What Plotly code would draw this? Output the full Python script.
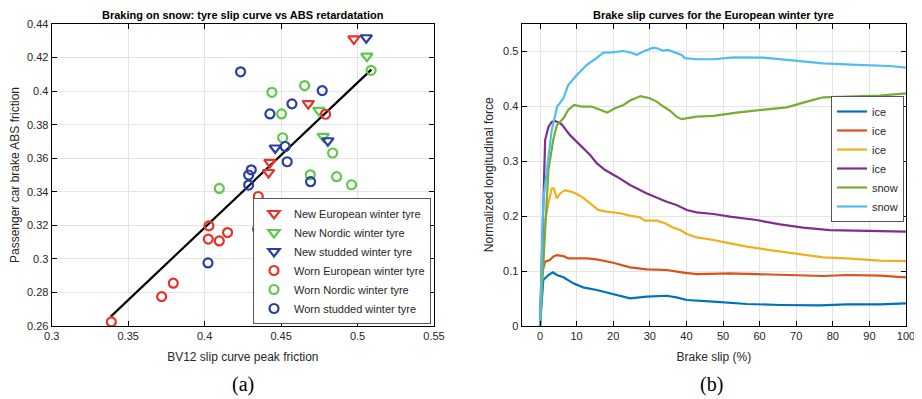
import plotly.graph_objects as go

# ---------------- Left panel data ----------------
new_eu_x = [0.4976, 0.4678, 0.4427, 0.4418]
new_eu_y = [0.4311, 0.3925, 0.3575, 0.3515]
new_nord_x = [0.5061, 0.4747, 0.4776]
new_nord_y = [0.4208, 0.3885, 0.3730]
new_stud_x = [0.5057, 0.4806, 0.4462]
new_stud_y = [0.4318, 0.3704, 0.3661]
worn_eu_x = [0.4791, 0.4351, 0.4028, 0.4346, 0.4150, 0.4024, 0.4096, 0.3795, 0.3719, 0.3390]
worn_eu_y = [0.3862, 0.3372, 0.3197, 0.3177, 0.3157, 0.3118, 0.3107, 0.2855, 0.2775, 0.2624]
worn_nord_x = [0.5089, 0.4440, 0.4654, 0.4503, 0.4510, 0.4837, 0.4691, 0.4863, 0.4961, 0.4096]
worn_nord_y = [0.4124, 0.3993, 0.4033, 0.3864, 0.3722, 0.3631, 0.3501, 0.3490, 0.3442, 0.3420]
worn_stud_x = [0.4235, 0.4769, 0.4571, 0.4427, 0.4527, 0.4540, 0.4305, 0.4288, 0.4288, 0.4693, 0.4022]
worn_stud_y = [0.4115, 0.4003, 0.3924, 0.3864, 0.3670, 0.3579, 0.3531, 0.3500, 0.3440, 0.3460, 0.2976]
fit_x = [0.3386, 0.5090]
fit_y = [0.2656, 0.4128]

left_xticks = [0.3, 0.35, 0.4, 0.45, 0.5, 0.55]
left_xtext = ["0.3", "0.35", "0.4", "0.45", "0.5", "0.55"]
left_yticks = [0.26, 0.28, 0.30, 0.32, 0.34, 0.36, 0.38, 0.40, 0.42, 0.44]
left_ytext = ["0.26", "0.28", "0.3", "0.32", "0.34", "0.36", "0.38", "0.4", "0.42", "0.44"]

# ---------------- Right panel data ----------------
ice1_x = [0, 0.9, 2.3, 3.5, 4.6, 6.4, 9.1, 11.8, 15.5, 20, 24.6, 29.2, 34.6, 37.3, 40.1, 47.4, 56.5, 65.6, 76.5, 83.8, 92.9, 100]
ice1_y = [0.0, 0.0836, 0.0927, 0.0976, 0.0927, 0.0885, 0.0776, 0.0703, 0.0655, 0.058, 0.0503, 0.0533, 0.055, 0.052, 0.0473, 0.0442, 0.040, 0.0382, 0.0376, 0.0394, 0.0394, 0.041]
ice2_x = [0, 0.5, 1.4, 2.7, 3.6, 4.6, 6.4, 7.7, 12.8, 15.5, 20, 24.6, 29.2, 34.6, 39.2, 42.8, 51.9, 61, 70.1, 77.4, 83.8, 92.9, 100]
ice2_y = [0.0, 0.0958, 0.117, 0.120, 0.126, 0.129, 0.127, 0.123, 0.123, 0.1212, 0.115, 0.1067, 0.103, 0.1018, 0.097, 0.0945, 0.0958, 0.0945, 0.0927, 0.0909, 0.0927, 0.0915, 0.0885]
ice3_x = [0, 0.9, 2.3, 3.2, 3.8, 4.6, 5.5, 6.8, 9.1, 11.4, 13.7, 15.9, 18.2, 21.9, 24.6, 27.3, 28.7, 31.9, 34.2, 36.4, 38.3, 40.1, 42.8, 47.4, 51.9, 56.5, 62.8, 70.1, 77.4, 83.8, 92.9, 100]
ice3_y = [0.0, 0.1745, 0.223, 0.250, 0.250, 0.232, 0.241, 0.247, 0.243, 0.235, 0.223, 0.211, 0.208, 0.205, 0.2006, 0.1976, 0.1915, 0.1915, 0.1867, 0.1788, 0.1745, 0.1673, 0.1612, 0.1564, 0.1503, 0.1442, 0.138, 0.131, 0.1248, 0.123, 0.1188, 0.118]
ice4_x = [0, 1.4, 2.3, 3.2, 4.1, 5.9, 8.2, 10.9, 13.7, 15.5, 17.8, 21, 24.6, 29.2, 34.6, 37.3, 40.1, 42.8, 47.4, 51.9, 59.2, 65.6, 71.9, 79.2, 88.3, 100]
ice4_y = [0.0, 0.338, 0.362, 0.371, 0.373, 0.367, 0.347, 0.329, 0.311, 0.296, 0.2836, 0.2715, 0.2564, 0.241, 0.226, 0.220, 0.211, 0.2067, 0.2036, 0.1988, 0.1927, 0.1848, 0.1788, 0.1745, 0.1727, 0.1715]
snow1_x = [0, 2.3, 3.6, 4.6, 6.4, 7.7, 9.3, 11.4, 14.1, 16.4, 18.4, 20.5, 22.8, 24.6, 27.5, 30, 31.9, 33.7, 35.5, 37.3, 38.7, 42.8, 47.4, 53.7, 61, 67.4, 72.9, 77.4, 83.8, 92.9, 100]
snow1_y = [0.0, 0.2836, 0.338, 0.365, 0.3776, 0.393, 0.402, 0.399, 0.399, 0.393, 0.388, 0.396, 0.402, 0.410, 0.418, 0.414, 0.408, 0.399, 0.3915, 0.3806, 0.376, 0.3806, 0.382, 0.388, 0.393, 0.3976, 0.408, 0.4158, 0.417, 0.4188, 0.423]
snow2_x = [0, 0.9, 3.2, 4.7, 6.4, 7.7, 10, 12.8, 15, 17.3, 19.6, 22.8, 24.6, 26.4, 28.7, 31, 31.9, 33.7, 35, 36.9, 38.7, 39.6, 42.8, 47.4, 52.8, 61, 70.1, 77.4, 88.3, 95.6, 100]
snow2_y = [0.0, 0.229, 0.356, 0.399, 0.414, 0.438, 0.456, 0.475, 0.485, 0.497, 0.4976, 0.500, 0.4976, 0.493, 0.5006, 0.506, 0.505, 0.5006, 0.502, 0.497, 0.493, 0.487, 0.485, 0.485, 0.4885, 0.488, 0.4825, 0.4776, 0.4745, 0.4727, 0.4697]
curve_names = ["ice", "ice", "ice", "ice", "snow", "snow"]

right_xticks = [0, 10, 20, 30, 40, 50, 60, 70, 80, 90, 100]
right_yticks = [0, 0.1, 0.2, 0.3, 0.4, 0.5]
right_ytext = ["0", "0.1", "0.2", "0.3", "0.4", "0.5"]

RED = "#e8312a"
GREEN = "#5ec94a"
BLUE = "#2b3ea4"
matlab = ["#0072BD", "#D95319", "#EDB120", "#7E2F8E", "#77AC30", "#4DBEEE"]

# page body has an 8px margin: figure is drawn offset by (8, 8) in the window
OFF = 8
W, H = 914, 391


def fx(X):
    return (X - OFF) / W


def fy(Y):
    return 1 - (Y - OFF) / H


fig = go.Figure()

scat = [
    (new_eu_x, new_eu_y, "New European winter tyre", RED, "triangle-down-open"),
    (new_nord_x, new_nord_y, "New Nordic winter tyre", GREEN, "triangle-down-open"),
    (new_stud_x, new_stud_y, "New studded winter tyre", BLUE, "triangle-down-open"),
    (worn_eu_x, worn_eu_y, "Worn European winter tyre", RED, "circle-open"),
    (worn_nord_x, worn_nord_y, "Worn Nordic winter tyre", GREEN, "circle-open"),
    (worn_stud_x, worn_stud_y, "Worn studded winter tyre", BLUE, "circle-open"),
]

fig.add_trace(go.Scatter(x=fit_x, y=fit_y, mode="lines", line=dict(color="black", width=2.2),
                         showlegend=False, xaxis="x", yaxis="y"))
for xs, ys, name, col, sym in scat:
    fig.add_trace(go.Scatter(x=xs, y=ys, mode="markers", name=name,
                             marker=dict(symbol=sym, size=9 if "circle" in sym else 10,
                                         color=col, line=dict(color=col, width=2.2)),
                             legend="legend", xaxis="x", yaxis="y"))

curves = [(ice1_x, ice1_y), (ice2_x, ice2_y), (ice3_x, ice3_y), (ice4_x, ice4_y), (snow1_x, snow1_y), (snow2_x, snow2_y)]
for i, (xs, ys) in enumerate(curves):
    fig.add_trace(go.Scatter(x=xs, y=ys, mode="lines", name=curve_names[i],
                             line=dict(color=matlab[i], width=2.2),
                             legend="legend2", xaxis="x2", yaxis="y2"))

FONT = "Liberation Sans, Arial, sans-serif"
axcommon = dict(showline=True, linecolor="black", linewidth=1.2, mirror="ticks",
                ticks="inside", ticklen=5, tickcolor="black", showgrid=True,
                gridcolor="#e4e4e4", gridwidth=1, zeroline=False, automargin=False,
                tickfont=dict(family=FONT, size=11, color="#262626"))

fig.update_layout(
    width=W, height=H,
    margin=dict(l=0, r=0, t=0, b=0),
    paper_bgcolor="white", plot_bgcolor="white",
    font=dict(family=FONT, color="#262626"),
    xaxis=dict(domain=[fx(51.7), fx(434)], range=[0.3, 0.55], tickvals=left_xticks, ticktext=left_xtext,
               title=dict(text="BV12 slip curve peak friction", font=dict(size=12), standoff=11), anchor="y", **axcommon),
    yaxis=dict(domain=[fy(326), fy(24)], range=[0.26, 0.44], tickvals=left_yticks, ticktext=left_ytext,
               title=dict(text="Passenger car brake ABS friction", font=dict(size=12), standoff=6), anchor="x", **axcommon),
    xaxis2=dict(domain=[fx(521.7), fx(906)], range=[-5, 100], tickvals=right_xticks,
                title=dict(text="Brake slip (%)", font=dict(size=12), standoff=11), anchor="y2", **axcommon),
    yaxis2=dict(domain=[fy(326), fy(23.5)], range=[0, 0.55], tickvals=right_yticks, ticktext=right_ytext,
                title=dict(text="Normalized longitudinal force", font=dict(size=12), standoff=6), anchor="x2", **axcommon),
    legend=dict(x=fx(431), xanchor="right", y=fy(324), yanchor="bottom",
                bgcolor="white", bordercolor="#555555", borderwidth=1,
                font=dict(family=FONT, size=11, color="#262626"), tracegroupgap=0, itemwidth=30),
    legend2=dict(x=fx(904), xanchor="right", y=fy(222), yanchor="bottom",
                 bgcolor="white", bordercolor="#555555", borderwidth=1,
                 font=dict(family=FONT, size=11, color="#262626"), tracegroupgap=0, itemwidth=30),
    annotations=[
        dict(text="<b>Braking on snow: tyre slip curve vs ABS retardatation</b>", x=fx((51.7 + 434) / 2), y=fy(15),
             xanchor="center", yanchor="middle",
             xref="paper", yref="paper", showarrow=False, font=dict(size=11, color="black", family=FONT)),
        dict(text="<b>Brake slip curves for the European winter tyre</b>", x=fx((521.7 + 906) / 2), y=fy(15),
             xanchor="center", yanchor="middle",
             xref="paper", yref="paper", showarrow=False, font=dict(size=11, color="black", family=FONT)),
        dict(text="(a)", x=fx(243), y=fy(384), xanchor="center", yanchor="middle",
             xref="paper", yref="paper", showarrow=False,
             font=dict(size=20, color="black", family="Liberation Serif, Times New Roman, serif")),
        dict(text="(b)", x=fx(711), y=fy(384), xanchor="center", yanchor="middle",
             xref="paper", yref="paper", showarrow=False,
             font=dict(size=20, color="black", family="Liberation Serif, Times New Roman, serif")),
    ],
)

fig.write_html("out.html")
